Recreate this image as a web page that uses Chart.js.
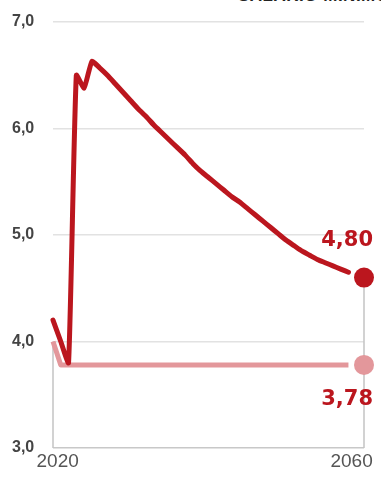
<!DOCTYPE html>
<html>
<head>
<meta charset="utf-8">
<script src="https://cdn.jsdelivr.net/npm/chart.js@4.4.1/dist/chart.umd.min.js"></script>
<style>
  html, body { margin: 0; padding: 0; background: #fff; overflow: hidden; }
  #wrap { position: relative; width: 381px; height: 477px; overflow: hidden; }
  #title { position: absolute; top: -13px; left: 238px; font: bold 17px "Liberation Sans", Arial, sans-serif; line-height: 17px; color: #222; white-space: nowrap; letter-spacing: 0.5px; }
  canvas { position: absolute; left: 0; top: 0; }
</style>
</head>
<body>
<div id="wrap">
  <div id="title">SALARIO MÍNIMO</div>
  <canvas id="c" width="381" height="477"></canvas>
</div>
<script>
// ---- data ----
const years = [2020,2021,2022,2023,2024,2025,2026,2027,2028,2029,2030,2031,2032,2033,2034,2035,2036,2037,2038,2039,2040,2041,2042,2043,2044,2045,2046,2047,2048,2049,2050,2051,2052,2053,2054,2055,2056,2057,2058];
const seriesMain = [4.20,4.00,3.80,6.50,6.38,6.63,6.57,6.50,6.42,6.34,6.26,6.18,6.11,6.03,5.96,5.89,5.82,5.75,5.67,5.60,5.54,5.48,5.42,5.36,5.31,5.25,5.19,5.13,5.07,5.01,4.95,4.90,4.85,4.81,4.77,4.74,4.71,4.68,4.65];
const seriesBase = [4.00,3.78,3.78,3.78,3.78,3.78,3.78,3.78,3.78,3.78,3.78,3.78,3.78,3.78,3.78,3.78,3.78,3.78,3.78,3.78,3.78,3.78,3.78,3.78,3.78,3.78,3.78,3.78,3.78,3.78,3.78,3.78,3.78,3.78,3.78,3.78,3.78,3.78,3.78];
const endYear = 2060;
const endValues = [4.60, 3.78];
const endLabels = ['4,80', '3,78'];
const yTicks = [3, 4, 5, 6, 7];
const yTickLabels = ['3,0', '4,0', '5,0', '6,0', '7,0'];
const xTickLabels = ['2020', '2060'];
const xTickPositions = [2020.6, 2058.4];

const DARK = '#bb161e';
const PINK = '#e3979b';

const toXY = (arr) => arr.map((v, i) => ({ x: years[i], y: v }));

const labelPlugin = {
  id: 'endLabels',
  afterDatasetsDraw(chart) {
    const ctx = chart.ctx;
    const xs = chart.scales.x, ys = chart.scales.y;
    ctx.save();
    ctx.font = 'bold 21px "DejaVu Sans", sans-serif';
    ctx.fillStyle = DARK;
    ctx.textAlign = 'right';
    ctx.textBaseline = 'middle';
    const px = xs.getPixelForValue(endYear);
    ctx.fillText(endLabels[0], px + 9, ys.getPixelForValue(endValues[0]) - 37);
    ctx.fillText(endLabels[1], px + 9, ys.getPixelForValue(endValues[1]) + 35);
    ctx.restore();
  }
};

new Chart(document.getElementById('c'), {
  type: 'line',
  data: {
    datasets: [
      { data: [{x: endYear, y: endValues[0]}], showLine: false, pointRadius: 10, pointHoverRadius: 10, pointBackgroundColor: DARK, pointBorderWidth: 0, order: 0, clip: false },
      { data: [{x: endYear, y: endValues[1]}], showLine: false, pointRadius: 10, pointHoverRadius: 10, pointBackgroundColor: PINK, pointBorderWidth: 0, order: 1, clip: false },
      { data: toXY(seriesMain), borderColor: DARK, borderWidth: 5, pointRadius: 0, tension: 0.15, borderJoinStyle: 'round', borderCapStyle: 'round', order: 2, clip: false },
      { data: toXY(seriesBase), borderColor: PINK, borderWidth: 5, pointRadius: 0, tension: 0, borderJoinStyle: 'round', borderCapStyle: 'butt', order: 3, clip: false },
      { data: [{x: years[0], y: seriesBase[0]}, {x: years[0], y: 3}], borderColor: '#c4c4c4', borderWidth: 1.5, pointRadius: 0, order: 4, clip: false },
      { data: [{x: endYear, y: endValues[0]}, {x: endYear, y: 3}], borderColor: '#c4c4c4', borderWidth: 1.5, pointRadius: 0, order: 5, clip: false }
    ]
  },
  options: {
    responsive: false,
    animation: false,
    events: [],
    layout: { padding: { top: 22, right: 17, left: 12, bottom: 0 } },
    plugins: { legend: { display: false }, tooltip: { enabled: false }, title: { display: false } },
    scales: {
      x: {
        type: 'linear', min: 2020, max: 2060,
        grid: { display: false, drawTicks: false },
        border: { display: false },
        afterBuildTicks: (s) => { s.ticks = xTickPositions.map(v => ({ value: v })); },
        ticks: {
          autoSkip: false, maxRotation: 0, padding: 2,
          font: { family: '"Liberation Sans", Arial, sans-serif', size: 19 },
          color: '#555',
          callback: (v, i) => xTickLabels[i]
        },
        afterFit: (s) => { s.height = 29; s.paddingLeft = 0; s.paddingRight = 0; }
      },
      y: {
        min: 3, max: 7,
        afterBuildTicks: (s) => { s.ticks = yTicks.map(v => ({ value: v })); },
        grid: {
          drawTicks: false,
          color: (c) => c.tick && c.tick.value === 3 ? '#c8c8c8' : '#e2e2e2',
          lineWidth: 1.5
        },
        border: { display: false },
        ticks: {
          crossAlign: 'far', padding: 0, labelOffset: 0,
          font: { family: '"Liberation Sans", Arial, sans-serif', size: 16, weight: 'bold' },
          color: '#444',
          callback: (v) => yTickLabels[yTicks.indexOf(v)]
        },
        afterFit: (s) => { s.width = 41; s.paddingTop = 0; s.paddingBottom = 0; }
      }
    }
  },
  plugins: [labelPlugin]
});
</script>
</body>
</html>
